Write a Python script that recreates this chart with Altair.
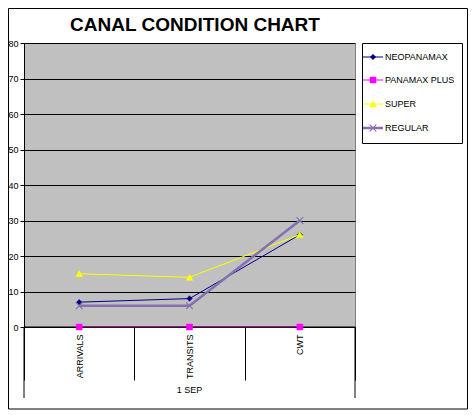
import altair as alt
import pandas as pd

# ---- data ----
categories = ["ARRIVALS", "TRANSITS", "CWT"]
series = ["NEOPANAMAX", "PANAMAX PLUS", "SUPER", "REGULAR"]
neopanamax = [7, 8, 26]
panamax_plus = [0, 0, 0]
super_vals = [15, 14, 26]
regular = [6, 6, 30]
group_label = "1 SEP"
title_text = "CANAL CONDITION CHART"
y_ticks = [0, 10, 20, 30, 40, 50, 60, 70, 80]

values = [neopanamax, panamax_plus, super_vals, regular]

# ---- styling ----
colors = ["#000080", "#FF00FF", "#FFFF00", "#8570B0"]
widths = [1, 1, 1, 2.5]
X_PATH = "M-1,-1L1,1M-1,1L1,-1"
shapes = ["diamond", "square", "triangle-up", X_PATH]
sizes = [30, 36, 45, 45]
FONT = "Arial"
W, H = 331, 284

rows = []
for s, vals in zip(series, values):
    for c, v in zip(categories, vals):
        rows.append({"series": s, "cat": c, "value": v})
df = pd.DataFrame(rows)

xenc = alt.X(
    "cat:N",
    sort=categories,
    scale=alt.Scale(type="band", domain=categories, paddingInner=0, paddingOuter=0),
    axis=alt.Axis(
        title=None, labelAngle=270, labelFontSize=9, labelFont=FONT, labelColor="black",
        tickBand="extent", tickSize=53, tickColor="black", domainColor="black",
        labelPadding=-46, grid=False, labelOverlap=False,
    ),
)
yenc = alt.Y(
    "value:Q",
    scale=alt.Scale(domain=[0, 80], nice=False),
    axis=alt.Axis(
        title=None, values=y_ticks, labelFontSize=9, labelFont=FONT, labelColor="black",
        tickSize=4, tickColor="black", domainColor="black", gridColor="black",
        gridOpacity=1, labelPadding=2, grid=True, labelOverlap=False,
    ),
)

layers = []

def series_line(i):
    d = df[df.series == series[i]]
    return alt.Chart(d).mark_line(color=colors[i], strokeWidth=widths[i]).encode(x=xenc, y=yenc)

def marker_kw(i):
    filled = shapes[i] != X_PATH
    kw = dict(shape=shapes[i], size=sizes[i], opacity=1)
    if filled:
        kw.update(filled=True, fill=colors[i], stroke=colors[i], strokeWidth=0.5)
    else:
        kw.update(filled=False, stroke=colors[i], strokeWidth=1.2)
    return kw

def series_points(i):
    d = df[df.series == series[i]]
    return alt.Chart(d).mark_point(**marker_kw(i)).encode(x=xenc, y=yenc)

base_one = pd.DataFrame({"v": [0]})

layers.append(series_line(0))
layers.append(series_line(1))
# black axis line at zero drawn over the magenta line
layers.append(alt.Chart(base_one).mark_rule(color="black", strokeWidth=1).encode(
    y=alt.value(H), x=alt.value(0), x2=alt.value(W)))
layers.append(series_line(2))
layers.append(series_line(3))
for i in range(4):
    layers.append(series_points(i))

# y axis extension and outer category borders below the plot
layers.append(alt.Chart(base_one).mark_rule(color="black").encode(
    x=alt.value(0), y=alt.value(H), y2=alt.value(H + 71)))
layers.append(alt.Chart(base_one).mark_rule(color="black").encode(
    x=alt.value(W), y=alt.value(H), y2=alt.value(H + 71)))

# group label
layers.append(alt.Chart(base_one).mark_text(
    font=FONT, fontSize=9, color="black", align="center", baseline="middle").encode(
    x=alt.value(W / 2), y=alt.value(H + 63), text=alt.value(group_label)))

# title
layers.append(alt.Chart(base_one).mark_text(
    font=FONT, fontSize=19, fontWeight="bold", color="black", align="center",
    baseline="alphabetic").encode(
    x=alt.value(171), y=alt.value(-12), text=alt.value(title_text)))

# outer frame
layers.append(alt.Chart(base_one).mark_rect(
    fill="transparent", stroke="black", strokeWidth=1).encode(
    x=alt.value(-15.5), x2=alt.value(443.5), y=alt.value(-34.5), y2=alt.value(366)))

# legend box
layers.append(alt.Chart(base_one).mark_rect(
    fill="white", stroke="black", strokeWidth=1).encode(
    x=alt.value(338.5), x2=alt.value(438.5), y=alt.value(0.5), y2=alt.value(100.5)))

legend_y = [14, 37, 61, 85]
for i, s in enumerate(series):
    ly = legend_y[i]
    layers.append(alt.Chart(base_one).mark_rule(color=colors[i], strokeWidth=widths[i]).encode(
        x=alt.value(339), x2=alt.value(359), y=alt.value(ly)))
    layers.append(alt.Chart(base_one).mark_point(**marker_kw(i)).encode(
        x=alt.value(349), y=alt.value(ly)))
    layers.append(alt.Chart(base_one).mark_text(
        font=FONT, fontSize=9, color="black", align="left", baseline="middle").encode(
        x=alt.value(361), y=alt.value(ly), text=alt.value(s)))

chart = alt.layer(*layers).properties(
    width=W, height=H,
    autosize=alt.AutoSizeParams(type="none"),
    padding={"left": 16, "top": 35, "right": 113, "bottom": 88},
    background="white",
).configure_view(fill="#C0C0C0", stroke="#808080", strokeWidth=1)

chart.save("out.html", embed_options={"renderer": "svg", "actions": False})
